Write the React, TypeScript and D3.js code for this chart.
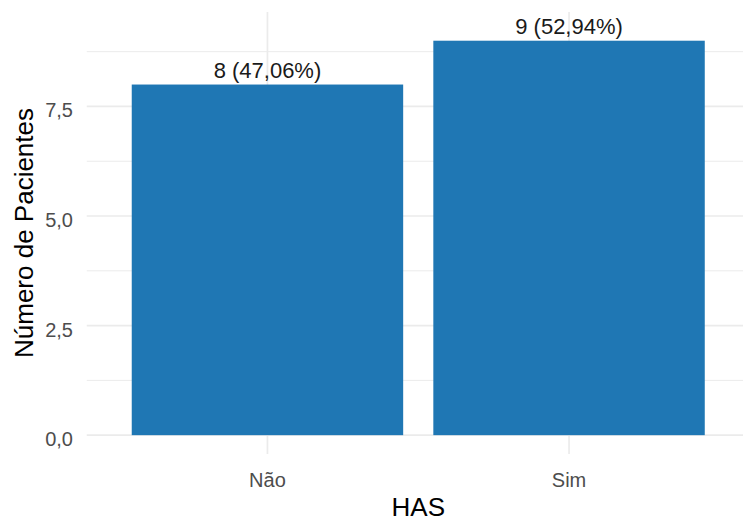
import React from "react";
import * as d3 from "d3";

const categories = ["Não", "Sim"];
const counts = [8, 9];
const labels = ["8 (47,06%)", "9 (52,94%)"];
const yTicks = [0, 2.5, 5, 7.5];
const yMinor = [1.25, 3.75, 6.25, 8.75];
const yTickLabels = ["0,0", "2,5", "5,0", "7,5"];
const xTitle = "HAS";
const yTitle = "Número de Pacientes";

const W = 743;
const H = 519;
const panel = { left: 86.5, right: 750, top: 12, bottom: 454 };
const FONT = "'Liberation Sans', Arial, Helvetica, sans-serif";

export default function App() {
  const x = d3
    .scaleLinear()
    .domain([0.4, categories.length + 0.6])
    .range([panel.left, panel.right]);
  const step = x(2) - x(1);
  const y = d3.scaleLinear().domain([-0.43, 9.655]).range([panel.bottom, panel.top]);
  const bw = step * 0.9;

  return (
    <svg
      width={W}
      height={H}
      style={{ position: "absolute", left: 0, top: 0, background: "#fff" }}
      fontFamily={FONT}
    >
      <defs>
        <clipPath id="clipP">
          <rect x={panel.left} y={panel.top} width={W - panel.left} height={panel.bottom - panel.top} />
        </clipPath>
      </defs>
      <g clipPath="url(#clipP)">
        {yMinor.map((v) => (
          <line key={"mn" + v} x1={panel.left} x2={panel.right} y1={y(v)} y2={y(v)} stroke="#EBEBEB" strokeWidth={1} />
        ))}
        {yTicks.map((v) => (
          <line key={"mj" + v} x1={panel.left} x2={panel.right} y1={y(v)} y2={y(v)} stroke="#EBEBEB" strokeWidth={1.7} />
        ))}
        {categories.map((c, i) => (
          <line key={"vx" + c} x1={x(i + 1)} x2={x(i + 1)} y1={panel.top} y2={panel.bottom} stroke="#EBEBEB" strokeWidth={1.7} />
        ))}
        {categories.map((c, i) => (
          <rect
            key={"b" + c}
            x={x(i + 1) - bw / 2}
            y={y(counts[i])}
            width={bw}
            height={y(0) - y(counts[i])}
            fill="#1F77B4"
          />
        ))}
      </g>
      {categories.map((c, i) => (
        <text key={"l" + c} x={x(i + 1)} y={y(counts[i]) - 7} textAnchor="middle" fontSize={22} fill="#1a1a1a">
          {labels[i]}
        </text>
      ))}
      {yTicks.map((v, i) => (
        <text key={"yt" + v} x={73} y={y(v) + 11} textAnchor="end" fontSize={20} fill="#4D4D4D">
          {yTickLabels[i]}
        </text>
      ))}
      {categories.map((c, i) => (
        <text key={"xt" + c} x={x(i + 1)} y={487} textAnchor="middle" fontSize={20} fill="#4D4D4D">
          {c}
        </text>
      ))}
      <text x={(panel.left + panel.right) / 2} y={516} textAnchor="middle" fontSize={26} fill="#000">
        {xTitle}
      </text>
      <text
        transform={`translate(33,${(panel.top + panel.bottom) / 2}) rotate(-90)`}
        textAnchor="middle"
        fontSize={26}
        fill="#000"
      >
        {yTitle}
      </text>
    </svg>
  );
}
